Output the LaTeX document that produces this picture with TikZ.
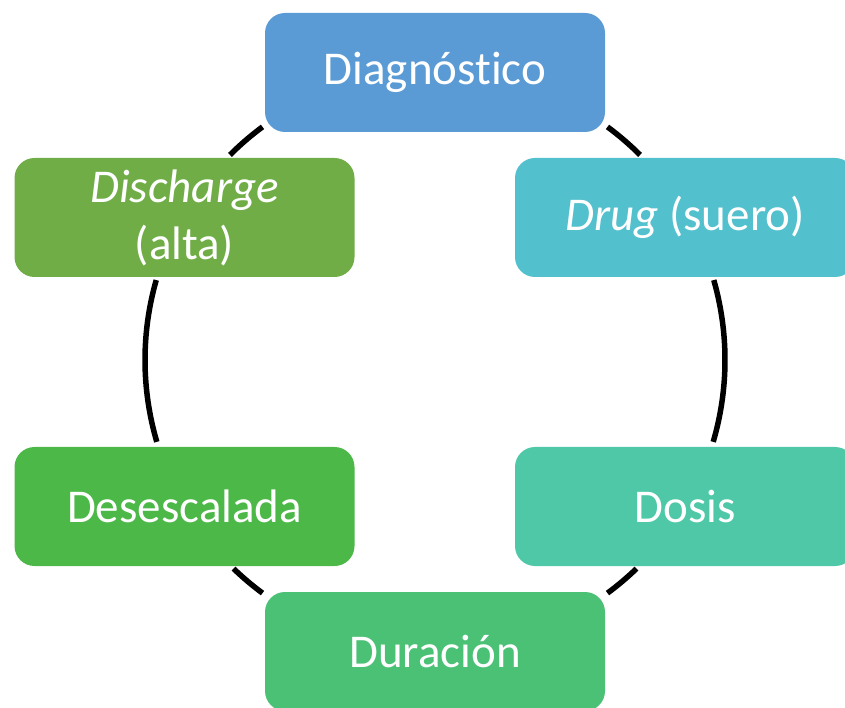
\documentclass[tikz,border=0pt]{standalone}
\usepackage{fontspec}
\setmainfont[Ligatures=NoCommon]{Carlito}
\begin{document}
\begin{tikzpicture}[x=1pt,y=1pt,
  stage/.style={rectangle, rounded corners=20pt, minimum width=340pt,
    minimum height=119pt, inner sep=0pt, text=white, align=center,
    font=\fontsize{47}{57}\selectfont},
  ring/.style={line width=5.5pt, black}]
\useasboundingbox (0,0) rectangle (845,707);
\clip (0,0) rectangle (845,707);
\definecolor{cDiag}{HTML}{5B9BD5}
\definecolor{cDrug}{HTML}{53C0CD}
\definecolor{cDose}{HTML}{4EC8A6}
\definecolor{cDur}{HTML}{4BC176}
\definecolor{cDes}{HTML}{4CB848}
\definecolor{cDis}{HTML}{70AD47}
\coordinate (c) at (435,347);
% ring segments between the stages
\draw[ring] ([shift={(53.5:290)}]c) arc (53.5:45:290);
\draw[ring] ([shift={(16:290)}]c) arc (16:-16.4:290);
\draw[ring] ([shift={(-46:290)}]c) arc (-46:-53.5:290);
\draw[ring] ([shift={(-126.5:290)}]c) arc (-126.5:-134:290);
\draw[ring] ([shift={(196.4:290)}]c) arc (196.4:164:290);
\draw[ring] ([shift={(135:290)}]c) arc (135:126.5:290);
% stages
\node[stage, fill=cDiag] (diag) at (435,634.5) {Diagnóst\kern0pt ico};
\node[stage, fill=cDrug] (drug) at (685,489.5) {\textit{Drug} (suero)};
\node[stage, fill=cDose] (dose) at (685,200.5) {Dosis};
\node[stage, fill=cDur] (dur) at (435,55.5) {Duración};
\node[stage, fill=cDes] (des) at (184.5,200.5) {Desescalada};
\node[stage, fill=cDis] (dis) at (184.5,489.5) {\textit{Discharge}\\(alta)};
\end{tikzpicture}
\end{document}
